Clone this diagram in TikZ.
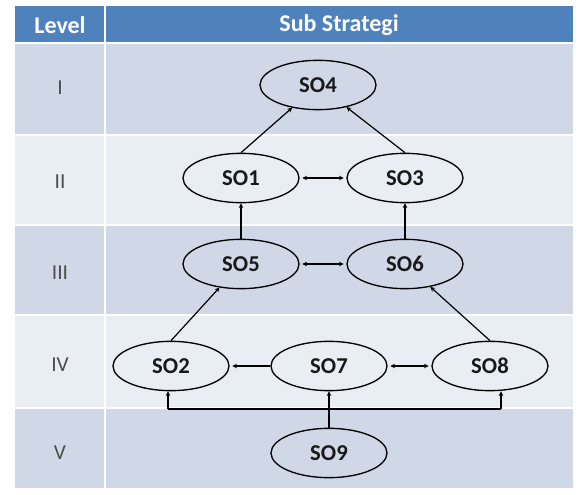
\documentclass[tikz,border=0pt]{standalone}
\usepackage{fontspec}
\setmainfont{Carlito}
\usetikzlibrary{positioning,shapes.geometric,arrows.meta}
\definecolor{headblue}{HTML}{4F81BD}
\definecolor{rowdark}{HTML}{D0D8E8}
\definecolor{rowlight}{HTML}{E9EDF4}
\tikzset{
  so/.style={draw,ellipse,line width=1pt,inner sep=0pt,minimum width=87pt,minimum height=37pt,
    font=\fontsize{17}{20}\selectfont\bfseries,text=black!90},
  lvl/.style={font=\fontsize{16}{19}\selectfont,text=black!70},
  head/.style={font=\fontsize{18}{21}\selectfont\bfseries,text=white},
  con/.style={line width=0.9pt,-{Stealth[length=3.5pt,width=3.5pt]}},
  con2/.style={line width=0.9pt,{Stealth[length=3.5pt,width=3.5pt]}-{Stealth[length=3.5pt,width=3.5pt]},shorten <=2pt,shorten >=2pt},
}
\begin{document}
\begin{tikzpicture}[x=0.75pt,y=-0.75pt]
\useasboundingbox (0,0) rectangle (582,495);
\fill[white] (0,0) rectangle (582,495);
% table
\fill[headblue] (15,6) rectangle (573,43);
\fill[rowdark] (15,43) rectangle (573,135);
\fill[rowlight] (15,135) rectangle (573,225);
\fill[rowdark] (15,225) rectangle (573,315);
\fill[rowlight] (15,315) rectangle (573,408);
\fill[rowdark] (15,408) rectangle (573,488);
\draw[white,line width=1pt] (105,6) -- (105,488);
\foreach \y in {43,135,225,315,408}
  \draw[white,line width=1pt] (15,\y) -- (573,\y);
% header
\node[head] (hlevel) at (60,25) {Level};
\node[head] (hsub) at (339,25) {Sub Strategi};
% levels
\node[lvl] (l1) at (60,88) {I};
\node[lvl] (l2) at (60,182) {II};
\node[lvl] (l3) at (60,273) {III};
\node[lvl] (l4) at (60,365) {IV};
\node[lvl] (l5) at (60,453) {V};
% sub strategies
\node[so] (so4) at (318,85) {SO4};
\node[so] (so1) at (241,178) {SO1};
\node[so] (so3) at (405,178) {SO3};
\node[so] (so5) at (241,264) {SO5};
\node[so] (so6) at (405,264) {SO6};
\node[so] (so2) at (171,366) {SO2};
\node[so] (so7) at (329,366) {SO7};
\node[so] (so8) at (490,366) {SO8};
\node[so] (so9) at (329,453) {SO9};
% links
\draw[con] (so1.north) -- (so4);
\draw[con] (so3.north) -- (so4);
\draw[con] (so5) -- (so1);
\draw[con] (so6) -- (so3);
\draw[con2] (so1) -- (so3);
\draw[con2] (so5) -- (so6);
\draw[con] (so2.north) -- (so5);
\draw[con] (so8.north) -- (so6);
\draw[con,shorten >=2pt] (so7) -- (so2);
\draw[con2] (so7) -- (so8);
\coordinate (bl) at (168,409);
\coordinate (br) at (501,409);
\draw[line width=0.9pt] (bl) -- (br);
\draw[con] (so9) -- (so7);
\draw[con] (bl) -- (bl |- so2.south);
\draw[con] (br) -- (br |- so8.south);
\end{tikzpicture}
\end{document}
